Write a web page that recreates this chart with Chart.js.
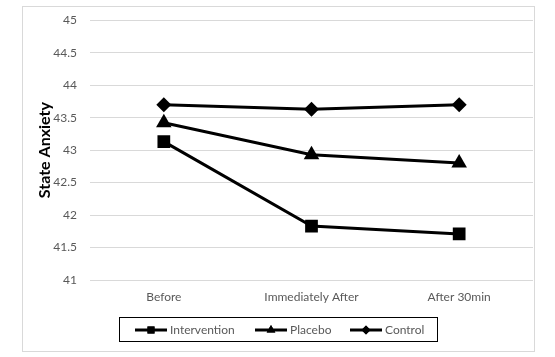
<!DOCTYPE html>
<html>
<head>
<meta charset="utf-8">
<script src="https://cdn.jsdelivr.net/npm/chart.js@4/dist/chart.umd.min.js"></script>
<style>
html,body{margin:0;padding:0;background:#fff;}
#wrap{width:555px;height:357px;}
</style>
</head>
<body>
<div id="wrap"><canvas id="c" width="555" height="357"></canvas></div>
<script>
const categories = ['Before', 'Immediately After', 'After 30min'];
const intervention = [43.13, 41.83, 41.71];
const placebo = [43.42, 42.93, 42.80];
const control = [43.70, 43.63, 43.70];
const yTicks = [41, 41.5, 42, 42.5, 43, 43.5, 44, 44.5, 45];
const seriesNames = ['Intervention', 'Placebo', 'Control'];

const FONT = 'Lato, "Liberation Sans", sans-serif';

const frame = {
  id: 'frame',
  beforeDraw(chart) {
    const ctx = chart.ctx;
    ctx.save();
    ctx.fillStyle = '#fff';
    ctx.fillRect(0, 0, chart.width, chart.height);
    ctx.strokeStyle = '#d9d9d9';
    ctx.lineWidth = 1;
    ctx.strokeRect(22.5, 6.5, 512, 345);
    ctx.restore();
  },
  afterDraw(chart) {
    const ctx = chart.ctx;
    ctx.save();
    ctx.strokeStyle = '#000';
    ctx.lineWidth = 1;
    ctx.strokeRect(119.5, 317.5, 318, 24);
    const starts = [135, 255, 350];
    const cy = 330;
    chart.data.datasets.forEach((ds, i) => {
      const x0 = starts[i];
      ctx.strokeStyle = '#000';
      ctx.lineWidth = 3;
      ctx.beginPath();
      ctx.moveTo(x0, cy);
      ctx.lineTo(x0 + 32, cy);
      ctx.stroke();
      ctx.fillStyle = '#000';
      Chart.helpers.drawPoint(ctx, {pointStyle: ds.pointStyle, radius: ds.legendRadius, rotation: 0, borderWidth: 0}, x0 + 16, cy);
      ctx.fill();
      ctx.fillStyle = '#595959';
      ctx.font = '12px ' + FONT;
      ctx.textBaseline = 'middle';
      ctx.textAlign = 'left';
      ctx.fillText(ds.label, x0 + 35, cy);
    });
    ctx.restore();
  }
};

new Chart(document.getElementById('c'), {
  type: 'line',
  data: {
    labels: categories,
    datasets: [
      {label: seriesNames[0], data: intervention, pointStyle: 'rect', pointRadius: 9, legendRadius: 5},
      {label: seriesNames[1], data: placebo, pointStyle: 'triangle', pointRadius: 9, legendRadius: 5},
      {label: seriesNames[2], data: control, pointStyle: 'rectRot', pointRadius: 7.5, legendRadius: 4.5}
    ].map(d => Object.assign(d, {
      borderColor: '#000', backgroundColor: '#000', pointBackgroundColor: '#000',
      pointBorderColor: '#000', pointBorderWidth: 0, borderWidth: 3, tension: 0, pointHoverRadius: d.pointRadius
    }))
  },
  options: {
    responsive: false,
    animation: false,
    events: [],
    layout: {padding: {left: 0, right: 22, top: 20, bottom: 0}},
    plugins: {legend: {display: false}, tooltip: {enabled: false}},
    scales: {
      x: {
        offset: true,
        grid: {display: false, drawTicks: false},
        border: {display: false},
        ticks: {color: '#595959', font: {family: FONT, size: 12}, padding: 10, maxRotation: 0},
        afterFit(s) { s.height = 77; }
      },
      y: {
        min: 41, max: 45,
        afterBuildTicks(s) { s.ticks = yTicks.map(v => ({value: v})); },
        grid: {color: '#d9d9d9', lineWidth: 1, drawTicks: false},
        border: {display: false},
        ticks: {color: '#595959', font: {family: FONT, size: 12}, padding: 13, callback: v => String(v)},
        title: {display: true, text: 'State Anxiety', color: '#000', font: {family: FONT, size: 16, weight: 'bold'}, padding: {top: 35, bottom: 0}},
        afterFit(s) { s.width = 90; }
      }
    }
  },
  plugins: [frame]
});
</script>
</body>
</html>
